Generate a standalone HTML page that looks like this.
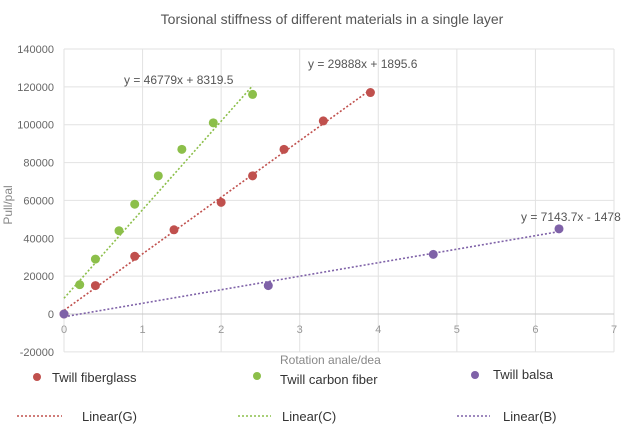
<!DOCTYPE html>
<html><head><meta charset="utf-8"><style>
body{margin:0;background:#fff}
svg text{font-family:"Liberation Sans",sans-serif}
</style></head><body>
<svg id="chart" width="640" height="437" viewBox="0 0 640 437">
<text x="332" y="24" text-anchor="middle" font-size="14" fill="#555">Torsional stiffness of different materials in a single layer</text>
<g id="grid"></g><g id="trends"></g><g id="pts"></g><g id="labels"></g>
<text x="280" y="364" font-size="12" fill="#888">Rotation anale/dea</text>
<text transform="translate(12,205) rotate(-90)" text-anchor="middle" font-size="12" fill="#888">Pull/pal</text>
<g>
<circle cx="37" cy="377" r="4" fill="#c0504d"/>
<text x="52" y="382" font-size="13" fill="#333">Twill fiberglass</text>
<circle cx="257" cy="376" r="4" fill="#8cbf4a"/>
<text x="280" y="384" font-size="13" fill="#333">Twill carbon fiber</text>
<circle cx="475" cy="375" r="4" fill="#7f62a8"/>
<text x="493" y="379" font-size="13" fill="#333">Twill balsa</text>
<line x1="17" y1="416" x2="62" y2="416" stroke="#c0504d" stroke-width="1.5" stroke-dasharray="2,2"/>
<text x="82" y="421" font-size="13" fill="#333">Linear(G)</text>
<line x1="238" y1="416" x2="271" y2="416" stroke="#8cbf4a" stroke-width="1.5" stroke-dasharray="2,2"/>
<text x="282" y="421" font-size="13" fill="#333">Linear(C)</text>
<line x1="457" y1="416" x2="490" y2="416" stroke="#7f62a8" stroke-width="1.5" stroke-dasharray="2,2"/>
<text x="503" y="421" font-size="13" fill="#333">Linear(B)</text>
</g>
</svg>
<script>
const xTicks=[0,1,2,3,4,5,6,7];
const yTicks=[-20000,0,20000,40000,60000,80000,100000,120000,140000];
const fgX=[0,0.4,0.9,1.4,2.0,2.4,2.8,3.3,3.9];
const fgY=[0,15000,30500,44500,59000,73000,87000,102000,117000];
const cfX=[0.2,0.4,0.7,0.9,1.2,1.5,1.9,2.4];
const cfY=[15500,29000,44000,58000,73000,87000,101000,116000];
const bsX=[0,2.6,4.7,6.3];
const bsY=[0,15000,31500,45000];
const fgFit=[29888,1895.6], cfFit=[46779,8319.5], bsFit=[7143.7,-1478];
const eqLabels=["y = 29888x + 1895.6","y = 46779x + 8319.5","y = 7143.7x - 1478"];
const NS="http://www.w3.org/2000/svg";
const X=v=>64+v*(614-64)/7;
const Y=v=>314-v*(314-49)/140000;
function mk(p,t,a){const e=document.createElementNS(NS,t);for(const k in a)e.setAttribute(k,a[k]);document.getElementById(p).appendChild(e);return e;}
xTicks.forEach(t=>{
 const l=mk('grid','line',{x1:X(t),x2:X(t),y1:Y(140000),y2:Y(-20000),stroke:'#e2e2e2'});
 
 
 const tx=mk('grid','text',{x:X(t),y:333,'text-anchor':'middle','font-size':11,fill:'#999'});tx.textContent=t;
 
 
});
yTicks.forEach(t=>{
 const l=mk('grid','line',{x1:X(0),x2:X(7),y1:Y(t),y2:Y(t),stroke:t===0?'#c8c8c8':'#e2e2e2'});
 
 
 const tx=mk('grid','text',{x:54,y:Y(t)+4,'text-anchor':'end','font-size':11,fill:'#666'});tx.textContent=t;
 
 
});
function trend(fit,x0,x1,c,name){
 const l=mk('trends','line',{x1:X(x0),y1:Y(fit[0]*x0+fit[1]),x2:X(x1),y2:Y(fit[0]*x1+fit[1]),stroke:c,'stroke-width':1.6,'stroke-dasharray':'2,2'});
 
 
}
trend(fgFit,0,3.9,'#c0504d','trendline-fiberglass');
trend(cfFit,0,2.4,'#8cbf4a','trendline-carbon');
trend(bsFit,0,6.3,'#7f62a8','trendline-balsa');
function pts(xs,ys,c,name){xs.forEach((x,i)=>{
 const e=mk('pts','circle',{cx:X(x),cy:Y(ys[i]),r:4.5,fill:c});
 
 
});}
pts(fgX,fgY,'#c0504d','point-fiberglass');
pts(cfX,cfY,'#8cbf4a','point-carbon');
pts(bsX,bsY,'#7f62a8','point-balsa');
[[eqLabels[0],308,68],[eqLabels[1],124,84],[eqLabels[2],521,221]].forEach(a=>{
 const t=mk('labels','text',{x:a[1],y:a[2],'font-size':12,fill:'#555'});t.textContent=a[0];
 
 
});
</script>
</body></html>
